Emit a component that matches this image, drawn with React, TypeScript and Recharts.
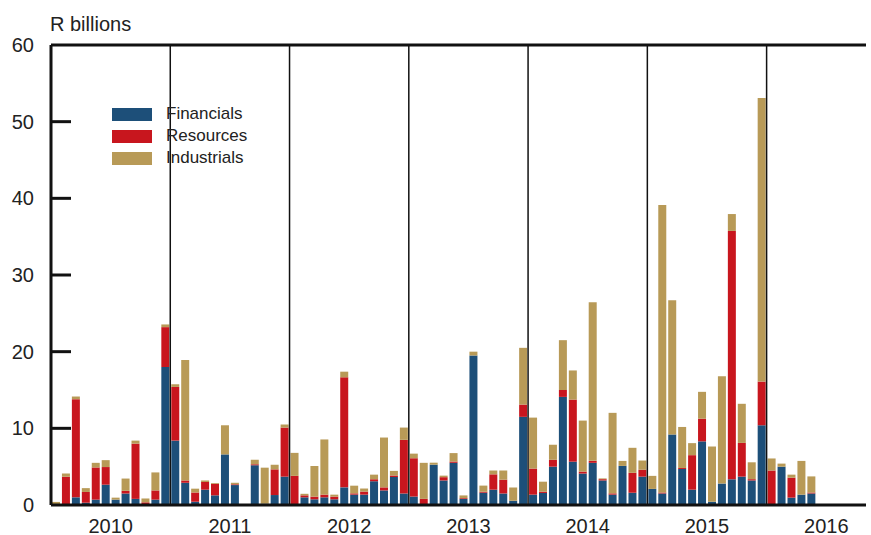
import { Bar, BarChart, ReferenceLine, XAxis, YAxis } from "recharts";

const YEARS = [2010, 2011, 2012, 2013, 2014, 2015, 2016];
const MONTHS = ["Jan", "Feb", "Mar", "Apr", "May", "Jun", "Jul", "Aug", "Sep", "Oct", "Nov", "Dec"];

// Jan 2010 to May 2016, R billions
const financials = [
  0, 0, 1.0, 0.3, 0.7, 2.65, 0.7, 1.5, 0.8, 0, 0.7, 18.0,
  8.4, 2.9, 0.43, 2.0, 1.26, 6.6, 2.6, 0, 5.2, 0.17, 1.3, 3.7,
  0, 1.0, 0.74, 1.0, 0.74, 2.3, 1.35, 1.35, 3.1, 1.9, 3.65, 1.5,
  1.1, 0, 5.26, 3.2, 5.5, 0.8, 19.5, 1.6, 2.0, 1.5, 0.57, 11.5,
  1.35, 1.57, 5.0, 14.1, 5.65, 4.1, 5.5, 3.2, 1.35, 5.1, 1.6, 3.7,
  2.1, 1.5, 9.2, 4.7, 2.0, 8.3, 0.43, 2.8, 3.35, 3.7, 3.2, 10.4,
  0, 5.0, 0.96, 1.35, 1.5,
];
const resources = [
  0, 3.7, 12.8, 1.4, 4.2, 2.3, 0, 0.35, 7.2, 0.35, 1.2, 5.2,
  7.0, 0.3, 1.2, 1.0, 1.5, 0, 0.1, 0, 0.1, 0, 3.35, 6.4,
  3.8, 0.26, 0.35, 0.35, 0.35, 14.35, 0.17, 0.4, 0.26, 0.4, 0.2, 7.0,
  5.0, 0.8, 0, 0.43, 0.17, 0.1, 0, 0.13, 2.0, 1.8, 0, 1.6,
  3.4, 0.17, 0.9, 0.9, 8.1, 0.26, 0.26, 0.17, 0.17, 0, 2.6, 0.9,
  0, 0.13, 0, 0.13, 4.5, 2.96, 0, 0, 32.4, 4.4, 0.17, 5.7,
  4.5, 0, 2.6, 0, 0.13,
];
const industrials = [
  0.4, 0.4, 0.35, 0.5, 0.6, 0.9, 0.26, 1.6, 0.4, 0.5, 2.35, 0.35,
  0.35, 15.7, 0.5, 0.2, 0.1, 3.8, 0.2, 0, 0.6, 4.7, 0.6, 0.4,
  3.0, 0.2, 4.0, 7.2, 0.26, 0.74, 1.0, 0.4, 0.6, 6.5, 0.6, 1.6,
  0.6, 4.7, 0.26, 0.2, 1.1, 0.35, 0.5, 0.8, 0.5, 1.2, 1.7, 7.4,
  6.65, 1.3, 1.96, 6.5, 3.8, 6.65, 20.7, 0.1, 10.5, 0.65, 3.26, 1.2,
  1.7, 37.5, 17.5, 5.35, 1.57, 3.5, 7.2, 14.0, 2.2, 5.1, 2.2, 37.0,
  1.57, 0.4, 0.4, 4.4, 2.1,
];

const yTicks = [0, 10, 20, 30, 40, 50, 60];

const N_MONTHS = 82; // axis runs Jan 2010 - Oct 2016

const COLORS = {
  Financials: "#1d4f79",
  Resources: "#c8161e",
  Industrials: "#b89a57",
};

const FONT = "'Liberation Sans', Arial, sans-serif";
const INK = "#222";
const AXIS_X = 51;

const data = Array.from({ length: N_MONTHS }, (_, i) => ({
  month: `${MONTHS[i % 12]} ${YEARS[Math.floor(i / 12)]}`,
  fin: financials[i] ?? null,
  res: resources[i] ?? null,
  ind: industrials[i] ?? null,
}));

// year label sits between Jun and Jul, so label the June tick and shift half a band
const yearTicks = YEARS.map((y) => `Jun ${y}`);
const yearEnds = YEARS.slice(0, -1).map((y) => `Dec ${y}`);

const YearTick = ({ x, y, payload }: any) => (
  <text x={x + 5} y={y + 12} dy="0.71em" textAnchor="middle" fill={INK} fontSize={20} fontFamily={FONT}>
    {payload.value.split(" ")[1]}
  </text>
);

const ValueTick = ({ x, y, payload }: any) => (
  <g>
    {payload.value > 0 && payload.value < 60 && (
      <line x1={AXIS_X} x2={AXIS_X + 20} y1={y} y2={y} stroke="#111" strokeWidth={3} />
    )}
    <text x={x} y={y} dy="0.355em" textAnchor="end" fill={INK} fontSize={20} fontFamily={FONT}>
      {payload.value}
    </text>
  </g>
);

const App = () => {
  return (
    <div style={{ position: "absolute", left: 0, top: 0, width: 871, height: 535, fontFamily: FONT }}>
      <BarChart
        width={871}
        height={535}
        data={data}
        margin={{ top: 45, right: 5, bottom: 0, left: 0 }}
        barCategoryGap={1}
      >
        <XAxis
          dataKey="month"
          ticks={yearTicks}
          interval={0}
          height={30}
          tickLine={false}
          tickSize={0}
          axisLine={{ stroke: "#111", strokeWidth: 3 }}
          tick={<YearTick />}
        />
        <YAxis
          domain={[0, 60]}
          ticks={yTicks}
          width={AXIS_X}
          tickLine={false}
          tickSize={0}
          tickMargin={17}
          axisLine={{ stroke: "#111", strokeWidth: 3 }}
          tick={<ValueTick />}
        />
        <Bar dataKey="fin" name="Financials" stackId="a" fill={COLORS.Financials} isAnimationActive={false} />
        <Bar dataKey="res" name="Resources" stackId="a" fill={COLORS.Resources} isAnimationActive={false} />
        <Bar dataKey="ind" name="Industrials" stackId="a" fill={COLORS.Industrials} isAnimationActive={false} />
        {yearEnds.map((m) => (
          <ReferenceLine key={m} x={m} position="end" stroke="#111" strokeWidth={1.5} />
        ))}
        <ReferenceLine y={60} stroke="#111" strokeWidth={3} />
      </BarChart>

      <div style={{ position: "absolute", left: 50, top: 14, fontSize: 20, lineHeight: "20px", color: INK }}>
        R billions
      </div>

      <div style={{ position: "absolute", left: 112, top: 103 }}>
        {Object.entries(COLORS).map(([name, color]) => (
          <div key={name} style={{ display: "flex", alignItems: "center", height: 22 }}>
            <span style={{ width: 40, height: 13, background: color, display: "inline-block" }} />
            <span style={{ marginLeft: 14, fontSize: 17, color: INK }}>{name}</span>
          </div>
        ))}
      </div>
    </div>
  );
};

export default App;
